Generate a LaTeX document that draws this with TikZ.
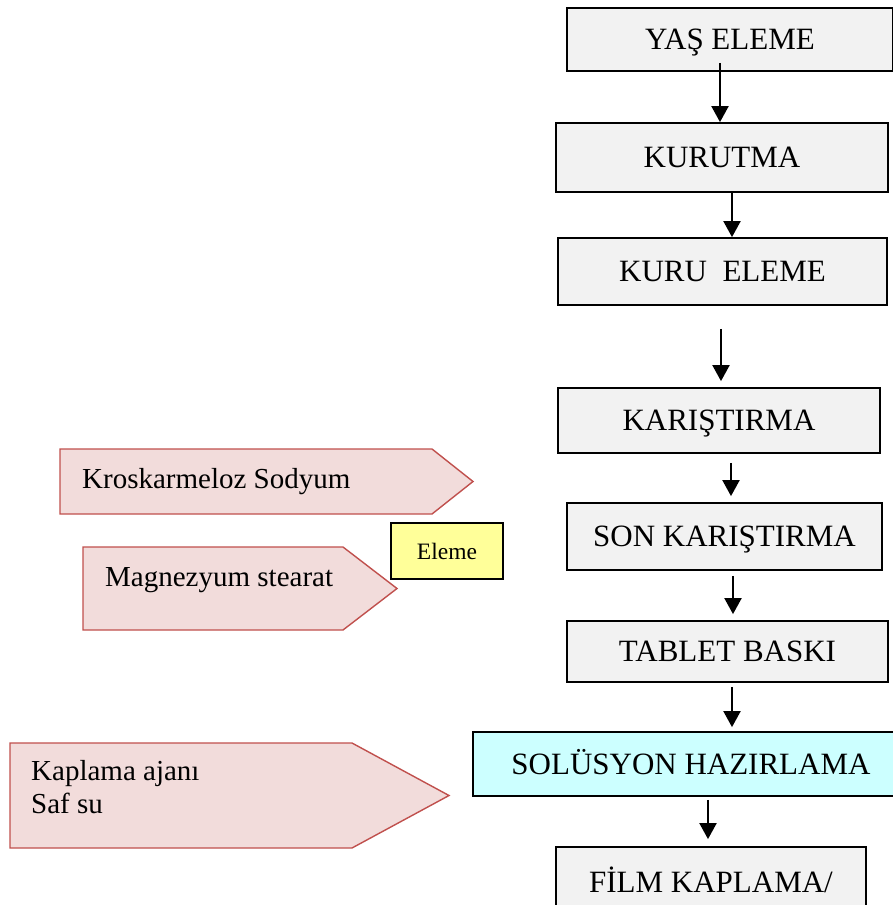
\documentclass[tikz,border=0pt]{standalone}
\usepackage{fontspec}
\setmainfont{Liberation Serif}
\usetikzlibrary{arrows.meta}
\definecolor{boxgray}{HTML}{F2F2F2}
\definecolor{solcyan}{HTML}{CCFFFF}
\definecolor{elyellow}{HTML}{FFFF99}
\definecolor{feedpink}{HTML}{F2DCDB}
\definecolor{feedred}{HTML}{C0504D}
\begin{document}
\begin{tikzpicture}[x=1pt,y=-1pt,
  stepbox/.style={draw, line width=1.8pt, fill=boxgray, inner sep=0pt, text height=20.5pt, text depth=0pt, font=\fontsize{31}{36}\selectfont},
  flow/.style={line width=2pt, -{Triangle[width=17pt,length=16pt]}},
  feed/.style={draw=feedred, line width=1.4pt, fill=feedpink},
  feedtext/.style={anchor=base west, inner sep=0pt, font=\fontsize{29}{33}\selectfont}]
\useasboundingbox (0,0) rectangle (893,905);
\clip (0,0) rectangle (893,905);
\node[stepbox, minimum width=326pt, minimum height=63pt] (yas) at (730,39.5) {YAŞ ELEME};
\node[stepbox, minimum width=332pt, minimum height=69pt] (kurutma) at (722,157.5) {KURUTMA};
\node[stepbox, minimum width=329pt, minimum height=67pt] (kuru) at (722.5,271.5) {KURU\ \ ELEME};
\node[stepbox, minimum width=322pt, minimum height=65pt] (karis) at (719,420.5) {KARIŞTIRMA};
\node[stepbox, minimum width=315pt, minimum height=67pt] (son) at (724.5,536.5) {SON KARIŞTIRMA};
\node[stepbox, minimum width=321pt, minimum height=61pt] (tablet) at (727.5,651.5) {TABLET BASKI};
\node[stepbox, fill=solcyan, minimum width=436pt, minimum height=64pt] (sol) at (691,764) {SOLÜSYON HAZIRLAMA};
\node[stepbox, minimum width=310pt, minimum height=70pt] (film) at (711,882) {FİLM KAPLAMA/};
\coordinate (c1) at (720,0);
\coordinate (c2) at (732,0);
\coordinate (c3) at (721,0);
\coordinate (c4) at (731,0);
\coordinate (c5) at (733,0);
\coordinate (c6) at (732,0);
\coordinate (c7) at (708,0);
\draw[flow, shorten <=-9pt] (yas.south -| c1) -- (kurutma.north -| c1);
\draw[flow] (kurutma.south -| c2) -- (kuru.north -| c2);
\draw[flow, shorten <=23pt, shorten >=6pt] (kuru.south -| c3) -- (karis.north -| c3);
\draw[flow, shorten <=9pt, shorten >=6pt] (karis.south -| c4) -- (son.north -| c4);
\draw[flow, shorten <=5pt, shorten >=6pt] (son.south -| c5) -- (tablet.north -| c5);
\draw[flow, shorten <=4pt, shorten >=4pt] (tablet.south -| c6) -- (sol.north -| c6);
\draw[flow, shorten <=3pt, shorten >=7pt] (sol.south -| c7) -- (film.north -| c7);
\draw[feed] (60,449) -- (432,449) -- (473,481.5) -- (432,514) -- (60,514) -- cycle;
\draw[feed] (83,547) -- (343,547) -- (397,588.5) -- (343,630) -- (83,630) -- cycle;
\draw[feed] (10,743) -- (352,743) -- (449,795.5) -- (352,848) -- (10,848) -- cycle;
\node[feedtext] (kros) at (82,488) {Kroskarmeloz Sodyum};
\node[feedtext] (magn) at (105,586) {Magnezyum stearat};
\node[feedtext] (kapl) at (31,780) {Kaplama ajanı};
\node[feedtext] (saf) at (31,813) {Saf su};
\node[draw, line width=1.8pt, fill=elyellow, inner sep=0pt, minimum width=112pt, minimum height=56pt, text height=16pt, text depth=0pt, font=\fontsize{23.5}{28}\selectfont] (eleme) at (447,551) {Eleme};
\end{tikzpicture}
\end{document}
